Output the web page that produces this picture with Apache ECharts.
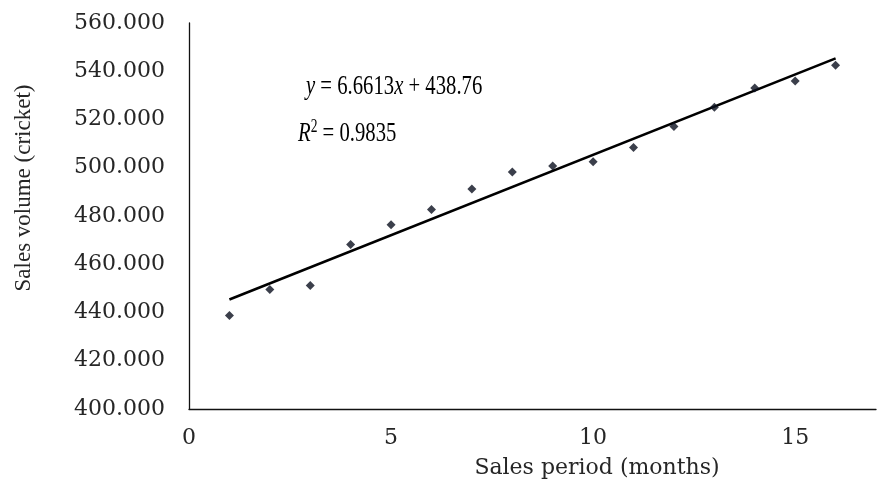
<!DOCTYPE html>
<html>
<head>
<meta charset="utf-8">
<script src="https://cdn.jsdelivr.net/npm/echarts@6/dist/echarts.min.js"></script>
<style>
  html, body { margin: 0; padding: 0; background: #fff; }
  #chart { width: 879px; height: 484px; }
</style>
</head>
<body>
<div id="chart"></div>
<script>
// Monthly sales observations
const months = [1, 2, 3, 4, 5, 6, 7, 8, 9, 10, 11, 12, 13, 14, 15, 16];
const sales = [438.8, 449.5, 451.2, 468.2, 476.4, 482.7, 491.2, 498.2, 500.7, 502.5, 508.4, 517.1, 525.1, 533.1, 536.0, 542.5];

// Linear trend fitted to the observations
const trendSlope = 6.6613;
const trendIntercept = 438.76;
const trendR2 = 0.9835;
const trendRange = [1, 16];

// Axis settings
const xTicks = [0, 5, 10, 15];
const yTicks = [400, 420, 440, 460, 480, 500, 520, 540, 560];

const points = months.map((m, i) => [m, sales[i]]);
const trendLine = trendRange.map(x => [x, trendSlope * x + trendIntercept]);

const wideFont = 'DejaVu Serif';
const textFont = 'Liberation Serif';

// Equation annotation: slightly tall serif text
const eqStyle = {
  font: '23px "Liberation Serif"',
  fill: '#000',
  verticalAlign: 'top',
  rich: {
    i: { fontFamily: textFont, fontSize: 23, fontStyle: 'italic', fill: '#000' },
    s: { fontFamily: textFont, fontSize: 15, fill: '#000', padding: [0, 0, 12, 0] }
  }
};

const chart = echarts.init(document.getElementById('chart'), null, { renderer: 'canvas' });
chart.setOption({
  animation: false,
  backgroundColor: '#ffffff',
  grid: { left: 189, right: 3, top: 23, bottom: 75 },
  xAxis: {
    type: 'value',
    min: 0,
    max: 17,
    interval: 5,
    showMaxLabel: false,
    splitLine: { show: false },
    axisTick: { show: false },
    axisLine: { show: true, onZero: false, lineStyle: { color: '#111', width: 1.3 } },
    axisLabel: {
      margin: 18,
      fontFamily: wideFont,
      fontSize: 22,
      color: '#262626',
      formatter: v => (xTicks.indexOf(v) >= 0 ? String(v) : '')
    },
    name: 'Sales period (months)',
    nameLocation: 'middle',
    nameGap: 48,
    nameTextStyle: {
      fontFamily: wideFont,
      fontSize: 22,
      color: '#262626',
      padding: [0, 0, 0, 129]
    }
  },
  yAxis: {
    type: 'value',
    min: yTicks[0],
    max: yTicks[yTicks.length - 1],
    interval: 20,
    splitLine: { show: false },
    axisTick: { show: false },
    axisLine: { show: true, lineStyle: { color: '#111', width: 1.3 } },
    axisLabel: {
      margin: 24,
      fontFamily: wideFont,
      fontSize: 22,
      color: '#262626',
      formatter: v => v.toFixed(3)
    },
    name: 'Sales volume (cricket)',
    nameLocation: 'middle',
    nameRotate: 90,
    nameGap: 154,
    nameTextStyle: {
      fontFamily: textFont,
      fontSize: 23,
      color: '#262626',
      padding: [0, 0, 0, 56]
    }
  },
  graphic: [
    {
      type: 'text',
      x: 306,
      y: 73,
      scaleX: 0.9,
      scaleY: 1.2,
      style: Object.assign({}, eqStyle, {
        text: '{i|y} = ' + trendSlope + '{i|x} + ' + trendIntercept
      })
    },
    {
      type: 'text',
      x: 298,
      y: 118,
      scaleX: 0.9,
      scaleY: 1.2,
      style: Object.assign({}, eqStyle, {
        text: '{i|R}{s|2} = ' + trendR2
      })
    }
  ],
  series: [
    {
      type: 'line',
      data: trendLine,
      showSymbol: false,
      symbol: 'none',
      lineStyle: { color: '#000', width: 2.6 },
      z: 2
    },
    {
      type: 'scatter',
      data: points,
      symbol: 'diamond',
      symbolSize: [9, 9],
      itemStyle: { color: '#0a0f1e' },
      z: 3
    }
  ]
});
</script>
</body>
</html>
